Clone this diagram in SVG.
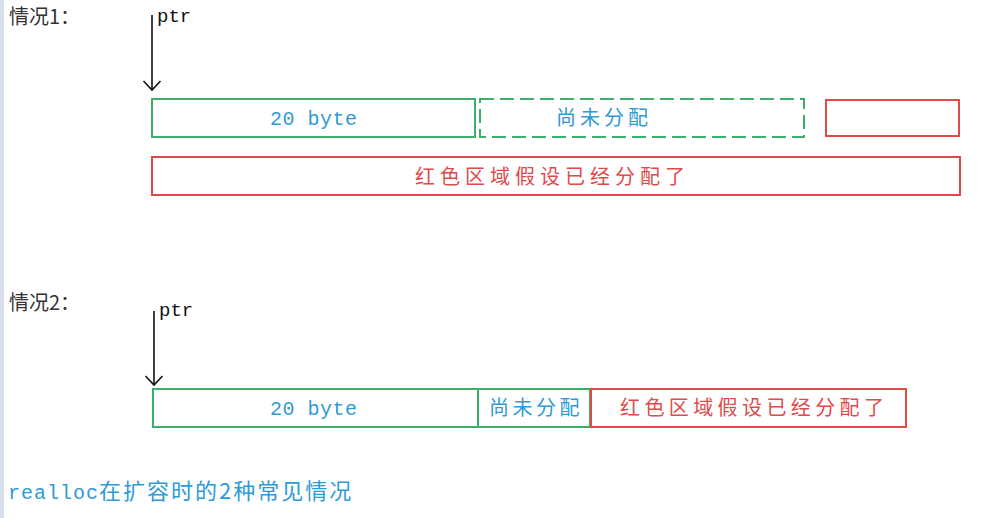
<svg xmlns="http://www.w3.org/2000/svg" width="985" height="518" viewBox="0 0 985 518">
<defs>
<marker id="ah" markerWidth="12" markerHeight="20" refX="10" refY="10" orient="auto" markerUnits="userSpaceOnUse" viewBox="0 0 12 20">
<path d="M1,1.5 L10,10 L1,18.5" fill="none" stroke="#111" stroke-width="1.6"/>
</marker>
</defs>
<style>
.lbl{font-family:"Noto Sans CJK SC",sans-serif;font-size:20px;fill:#333}
.mono{font-family:"Liberation Mono","Noto Sans CJK SC",monospace;font-size:19px;fill:#111}
.blue{font-family:"Liberation Mono","Noto Sans CJK SC",monospace;font-size:20px;fill:#2f9ad6;letter-spacing:0.5px}
.red{font-family:"Noto Sans CJK SC",sans-serif;font-size:20px;fill:#e04a4a}
.cjkb{font-family:"Noto Sans CJK SC",sans-serif;font-size:20px;fill:#2f9ad6}
.g{fill:none;stroke:#3fae6a;stroke-width:2}
.gd{fill:none;stroke:#3fae6a;stroke-width:2;stroke-dasharray:14,6}
.r{fill:none;stroke:#e04a4a;stroke-width:2}
.arr{stroke:#111;stroke-width:1.6;fill:none}
</style>
<rect x="0" y="0" width="985" height="518" fill="#ffffff"/>
<rect x="0" y="0" width="4" height="518" fill="#d9dfea"/>

<g id="case1">
<text class="lbl" x="9" y="24">情况1：</text>
<text class="mono" x="157" y="22">ptr</text>
</g>
<g id="connectors">
<line class="arr" x1="152" y1="15" x2="152" y2="90" marker-end="url(#ah)"/>
<line class="arr" x1="154" y1="311" x2="154" y2="385" marker-end="url(#ah)"/>
</g>
<g id="c1-used">
<rect class="g" x="152" y="99" width="323" height="38"/>
<text class="blue" x="270" y="125">20 byte</text>
</g>
<g id="c1-free">
<rect class="gd" x="480" y="99" width="324" height="38"/>
<text class="cjkb" x="556" y="125" style="letter-spacing:4px">尚未分配</text>
</g>
<g id="c1-red-small">
<rect class="r" x="826" y="100" width="133" height="36"/>
</g>
<g id="c1-red-big">
<rect class="r" x="152" y="157" width="808" height="38"/>
<text class="red" x="415" y="184" style="letter-spacing:5px">红色区域假设已经分配了</text>
</g>

<g id="case2">
<text class="lbl" x="9" y="310">情况2：</text>
<text class="mono" x="159" y="316">ptr</text>
</g>
<g id="c2-used">
<rect class="g" x="153" y="389" width="325" height="38"/>
<text class="blue" x="270" y="415">20 byte</text>
</g>
<g id="c2-free">
<rect class="g" x="478" y="389" width="112" height="38"/>
<text class="cjkb" x="489" y="415" style="letter-spacing:3.5px">尚未分配</text>
</g>
<g id="c2-red">
<rect class="r" x="591" y="389" width="315" height="38"/>
<text class="red" x="620" y="415" style="letter-spacing:4.4px">红色区域假设已经分配了</text>
</g>

<g id="caption">
<text x="8" y="499" style="font-family:'Liberation Mono','Noto Sans CJK SC',monospace;font-size:20px;fill:#2f9ad6;letter-spacing:1px">realloc<tspan style="font-family:'Noto Sans CJK SC',sans-serif;font-size:22px;letter-spacing:2px">在扩容时的2种常见情况</tspan></text>
</g>
</svg>
